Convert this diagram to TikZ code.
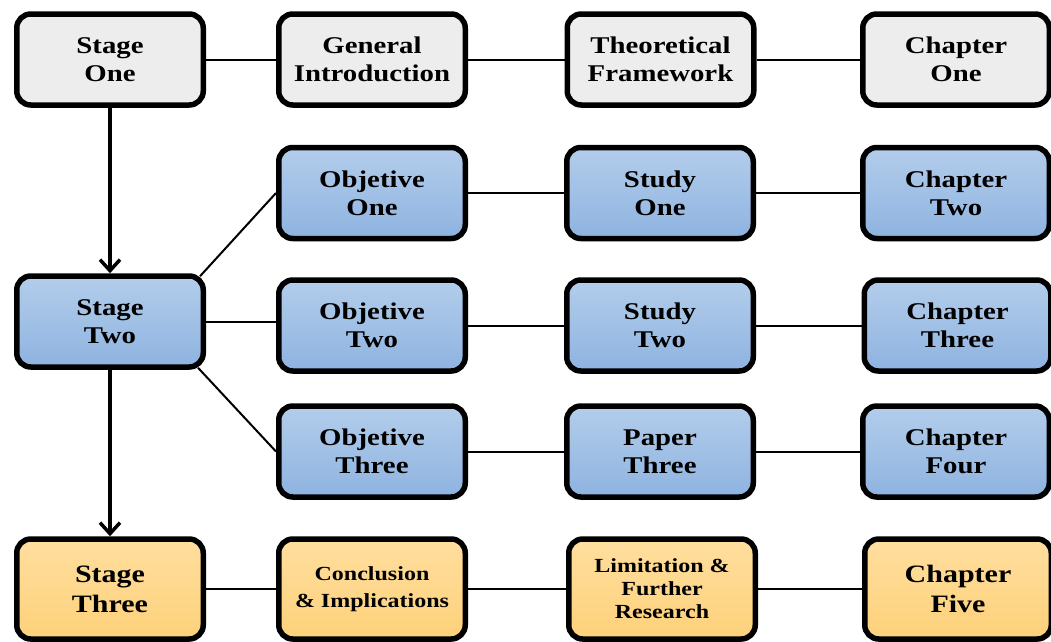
\documentclass[tikz,border=0pt]{standalone}
\usepackage{fontspec}
\setmainfont{Liberation Serif}[FakeStretch=1.2]
\usetikzlibrary{arrows.meta,backgrounds}
\definecolor{grayfill}{HTML}{EDEDED}
\definecolor{bluetop}{HTML}{B3CDEB}
\definecolor{bluebot}{HTML}{8EB3E0}
\definecolor{orgtop}{HTML}{FFDE9E}
\definecolor{orgbot}{HTML}{FDD17A}
\begin{document}
\begin{tikzpicture}[x=1pt,y=-1pt,
  box/.style={draw=black, line width=5.5pt, rounded corners=14pt,
    minimum width=186.5pt, minimum height=91pt, align=center, inner sep=0pt,
    font=\bfseries\fontsize{24}{28}\selectfont},
  greybox/.style={box, fill=grayfill},
  blubox/.style={box, top color=bluetop, bottom color=bluebot},
  orbox/.style={box, top color=orgtop, bottom color=orgbot, minimum height=100pt},
  link/.style={line width=2pt},
  flow/.style={line width=3.5pt, -{Straight Barb[length=11pt,width=20pt,line width=3.5pt]}}
]
\useasboundingbox (0,0) rectangle (1051,641);

% row 1
\node[greybox] (s1) at (110,59.5) {Stage\\One};
\node[greybox] (gi) at (372,59.5) {General\\Introduction};
\node[greybox] (tf) at (660.5,59.5) {Theoretical\\Framework};
\node[greybox] (c1) at (956,59.5) {Chapter\\One};
% row 2
\node[blubox] (o1) at (372,193) {Objetive\\One};
\node[blubox] (st1) at (660,193) {Study\\One};
\node[blubox] (c2) at (956,193) {Chapter\\Two};
% row 3
\node[blubox] (s2) at (110,321.5) {Stage\\Two};
\node[blubox] (o2) at (372,325.5) {Objetive\\Two};
\node[blubox] (st2) at (660,325.5) {Study\\Two};
\node[blubox] (c3) at (957.5,325.5) {Chapter\\Three};
% row 4
\node[blubox] (o3) at (372,451.5) {Objetive\\Three};
\node[blubox] (p3) at (660,451.5) {Paper\\Three};
\node[blubox] (c4) at (956,451.5) {Chapter\\Four};
% row 5
\node[orbox, font=\bfseries\fontsize{25}{30}\selectfont] (s3) at (110,589) {Stage\\Three};
\node[orbox, font=\bfseries\fontsize{20}{27}\selectfont] (cn) at (372,589) {Conclusion\\\&~Implications};
\node[orbox, font=\bfseries\fontsize{20}{23}\selectfont] (lim) at (662,589) {Limitation \&\\Further\\Research};
\node[orbox, font=\bfseries\fontsize{25}{30}\selectfont] (c5) at (958,589) {Chapter\\Five};

\begin{scope}[on background layer]
  \fill[white] (0,0) rectangle (1051,641);
  \draw[link] (s1) -- (gi);
  \draw[link] (gi) -- (tf);
  \draw[link] (tf) -- (c1);
  \draw[link] (o1) -- (st1);
  \draw[link] (st1) -- (c2);
  \draw[link] (s2.east) -- (o2.west |- s2.east);
  \draw[link] (o2) -- (st2);
  \draw[link] (st2) -- (c3);
  \draw[link] (o3) -- (p3);
  \draw[link] (p3) -- (c4);
  \draw[link] ([xshift=-6pt,yshift=-3pt]s2.north east) -- (o1.west);
  \draw[link] ([xshift=-8pt,yshift=2pt]s2.south east) -- (o3.west);
  \draw[link] (s3) -- (cn);
  \draw[link] (cn) -- (lim);
  \draw[link] (lim) -- (c5);
\end{scope}
\draw[flow] (s1.south) -- (s2.north);
\draw[flow] (s2.south) -- (s3.north);
\end{tikzpicture}
\end{document}
